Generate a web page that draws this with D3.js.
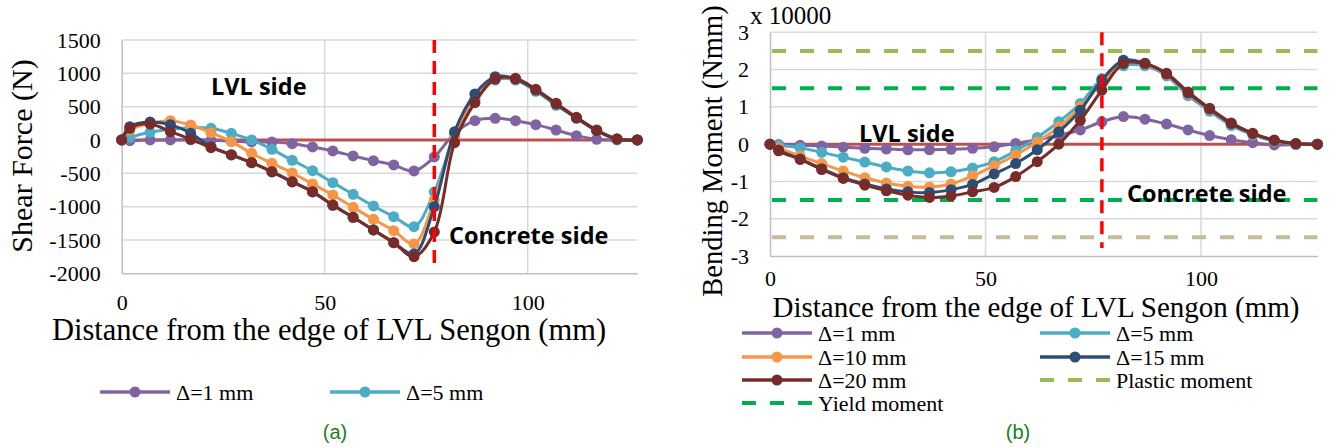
<!DOCTYPE html>
<html>
<head>
<meta charset="utf-8">
<script src="https://cdn.jsdelivr.net/npm/d3@7"></script>
<style>
    body { margin: 0; background: #fff; }
    text { font-family: "Liberation Serif", "Times New Roman", serif; fill: #000; }
    .note { font-family: "Open Sans", sans-serif; font-weight: 700; }
    .caption { font-family: "Liberation Sans", Arial, sans-serif; fill: #17821c; }
</style>
</head>
<body>
<div id="chart"></div>
<script>

// distance from the edge of LVL Sengon (mm)
var distance = [0, 2, 7, 12, 17, 22, 27, 32, 37, 42, 47, 52, 57, 62, 67, 72, 77, 82, 87, 92, 97, 102, 107, 112, 117, 122, 127];

// shear force (N)
var shear1  = [0, -10, 0, 0, 5, -5, -15, -30, -30, -55, -105, -165, -240, -310, -375, -465, -255, 100, 290, 325, 290, 230, 150, 65, 10, 0, 0];
var shear5  = [0, 40, 115, 160, 185, 175, 100, 0, -140, -305, -460, -640, -815, -990, -1150, -1300, -780, 60, 620, 900, 900, 730, 520, 330, 140, 10, 0];
var shear10 = [0, 150, 250, 290, 225, 110, -25, -200, -350, -495, -660, -825, -1010, -1190, -1360, -1560, -900, 50, 600, 920, 915, 750, 540, 330, 140, 15, 0];
var shear15 = [0, 200, 270, 230, 100, -100, -220, -340, -480, -630, -780, -980, -1160, -1350, -1540, -1710, -1000, 125, 690, 950, 915, 750, 540, 330, 140, 15, 0];
var shear20 = [0, 175, 240, 125, 10, -115, -225, -340, -475, -625, -775, -975, -1160, -1350, -1540, -1750, -1380, -40, 560, 915, 925, 760, 550, 340, 150, 15, 0];

// bending moment (x 10000 Nmm)
var moment1  = [0, -0.01, -0.03, -0.05, -0.08, -0.11, -0.13, -0.15, -0.15, -0.14, -0.11, -0.07, 0.02, 0.12, 0.24, 0.38, 0.6, 0.74, 0.67, 0.54, 0.38, 0.23, 0.12, 0.04, -0.02, -0.01, 0];
var moment5  = [0, -0.03, -0.1, -0.22, -0.35, -0.48, -0.61, -0.72, -0.77, -0.74, -0.64, -0.47, -0.18, 0.18, 0.6, 1.09, 1.76, 2.1, 2.1, 1.83, 1.3, 0.88, 0.5, 0.25, 0.08, 0.01, 0];
var moment10 = [0, -0.1, -0.32, -0.52, -0.72, -0.9, -1.04, -1.13, -1.15, -1.07, -0.85, -0.58, -0.29, 0.06, 0.46, 1.0, 1.65, 2.18, 2.15, 1.86, 1.35, 0.92, 0.54, 0.27, 0.09, 0.01, 0];
var moment15 = [0, -0.16, -0.4, -0.66, -0.9, -1.07, -1.2, -1.28, -1.3, -1.22, -1.08, -0.8, -0.52, -0.15, 0.33, 0.91, 1.72, 2.25, 2.17, 1.88, 1.37, 0.94, 0.55, 0.28, 0.1, 0.01, 0];
var moment20 = [0, -0.18, -0.41, -0.68, -0.92, -1.1, -1.25, -1.37, -1.43, -1.39, -1.28, -1.16, -0.87, -0.47, 0.0, 0.64, 1.45, 2.16, 2.16, 1.9, 1.4, 0.96, 0.57, 0.29, 0.11, 0.02, 0];

var seriesNames = ["Δ=1 mm", "Δ=5 mm", "Δ=10 mm", "Δ=15 mm", "Δ=20 mm"];
var seriesColors = ["#8064a2", "#4bacc6", "#f79646", "#2c4d75", "#772c2a"];

var shearTicks = [1500, 1000, 500, 0, -500, -1000, -1500, -2000];
var momentTicks = [3, 2, 1, 0, -1, -2, -3];
var distanceTicks = [0, 50, 100];

var interfaceX = 77;          // LVL / concrete boundary
var yieldMoment = 1.5;
var plasticMoment = 2.5;

var svg = d3.select("#chart").append("svg")
    .attr("width", 1330)
    .attr("height", 447);

Panel = function(_cfg){
    this.cfg = _cfg;
    this.initVis();
}

Panel.prototype.initVis = function(){
    var vis = this;
    var c = vis.cfg;

    vis.g = svg.append("g");

    vis.x = d3.scaleLinear()
        .domain([0, 127])
        .range([c.left, c.right]);

    vis.y = d3.scaleLinear()
        .domain([c.ticks[c.ticks.length - 1], c.ticks[0]])
        .range([c.bottom, c.top]);

    // gridlines
    vis.g.selectAll(".hgrid")
        .data(c.ticks.slice(0, -1))
        .enter().append("line")
        .attr("x1", vis.x(0))
        .attr("x2", vis.x(127))
        .attr("y1", function(d){ return vis.y(d); })
        .attr("y2", function(d){ return vis.y(d); })
        .attr("stroke", "#d9d9d9")
        .attr("stroke-width", 1.5);

    vis.g.selectAll(".vgrid")
        .data(distanceTicks.slice(1))
        .enter().append("line")
        .attr("x1", function(d){ return vis.x(d); })
        .attr("x2", function(d){ return vis.x(d); })
        .attr("y1", c.top)
        .attr("y2", c.bottom)
        .attr("stroke", "#d9d9d9")
        .attr("stroke-width", 1.5);

    // axes
    vis.yAxis = d3.axisLeft(vis.y)
        .tickValues(c.ticks)
        .tickSize(0)
        .tickPadding(21)
        .tickFormat(function(d){ return String(d); });

    vis.xAxis = d3.axisBottom(vis.x)
        .tickValues(distanceTicks)
        .tickSize(0)
        .tickPadding(c.xPad)
        .tickFormat(function(d){ return String(d); });

    var ya = vis.g.append("g")
        .attr("transform", "translate(" + c.left + ",0)")
        .call(vis.yAxis);
    var xa = vis.g.append("g")
        .attr("transform", "translate(0," + c.bottom + ")")
        .call(vis.xAxis);

    [ya, xa].forEach(function(a){
        a.select(".domain").attr("stroke", "#bfbfbf").attr("stroke-width", 1.5);
        a.selectAll("text")
            .attr("fill", "#000")
            .style("font-size", "22px")
            .style("font-family", "Liberation Serif");
    });

    vis.drawData();
}

Panel.prototype.drawData = function(){
    var vis = this;
    var c = vis.cfg;

    // zero reference line
    vis.g.append("line")
        .attr("x1", vis.x(0))
        .attr("x2", vis.x(127))
        .attr("y1", vis.y(0))
        .attr("y2", vis.y(0))
        .attr("stroke", "#c0504d")
        .attr("stroke-width", 3);

    // moment limits
    if (c.limits) {
        c.limits.forEach(function(l){
            vis.g.append("line")
                .attr("x1", vis.x(0) + 2)
                .attr("x2", vis.x(127))
                .attr("y1", vis.y(l.value))
                .attr("y2", vis.y(l.value))
                .attr("stroke", l.color)
                .attr("stroke-width", 4)
                .attr("stroke-dasharray", "14,14");
        });
    }

    var line = d3.line()
        .x(function(d){ return vis.x(d[0]); })
        .y(function(d){ return vis.y(d[1]); })
        .curve(d3.curveCatmullRom.alpha(0.5));

    c.series.forEach(function(s, i){
        var pts = distance.map(function(d, j){ return [d, s[j]]; });

        vis.g.append("path")
            .datum(pts)
            .attr("d", line)
            .attr("fill", "none")
            .attr("stroke", seriesColors[i])
            .attr("stroke-width", 3);

        vis.g.selectAll(".pt" + i)
            .data(pts)
            .enter().append("circle")
            .attr("cx", function(d){ return vis.x(d[0]); })
            .attr("cy", function(d){ return vis.y(d[1]); })
            .attr("r", 5.5)
            .attr("fill", seriesColors[i]);
    });

    // LVL / concrete interface
    vis.g.append("line")
        .attr("x1", vis.x(interfaceX))
        .attr("x2", vis.x(interfaceX))
        .attr("y1", c.top)
        .attr("y2", c.bottom - 8)
        .attr("stroke", "#ff0000")
        .attr("stroke-width", 3.5)
        .attr("stroke-dasharray", "13,8");

    // labels
    vis.g.append("text")
        .attr("class", "note")
        .attr("x", c.lvlLabel[0])
        .attr("y", c.lvlLabel[1])
        .style("font-size", "23.5px")
        .text("LVL side");

    vis.g.append("text")
        .attr("class", "note")
        .attr("x", c.concreteLabel[0])
        .attr("y", c.concreteLabel[1])
        .style("font-size", "23.5px")
        .text("Concrete side");

    vis.g.append("text")
        .attr("text-anchor", "middle")
        .attr("transform", "translate(" + c.yTitle[0] + "," + c.yTitle[1] + ") rotate(-90)")
        .style("font-size", c.yTitleSize + "px")
        .text(c.yLabel);

    vis.g.append("text")
        .attr("text-anchor", "middle")
        .attr("x", c.xTitle[0])
        .attr("y", c.xTitle[1])
        .style("font-size", c.xTitleSize + "px")
        .text("Distance from the edge of LVL Sengon (mm)");

    vis.g.append("text")
        .attr("class", "caption")
        .attr("text-anchor", "middle")
        .attr("x", c.caption[0])
        .attr("y", 439)
        .style("font-size", "20px")
        .text(c.captionText);
}

function legendItem(x, y, color, label, dashed){
    var g = svg.append("g");
    g.append("line")
        .attr("x1", x).attr("x2", x + 70)
        .attr("y1", y).attr("y2", y)
        .attr("stroke", color)
        .attr("stroke-width", dashed ? 4 : 3.5)
        .attr("stroke-dasharray", dashed ? "14,14" : null);
    if (!dashed) {
        g.append("circle")
            .attr("cx", x + 35).attr("cy", y)
            .attr("r", 5.5)
            .attr("fill", color);
    }
    g.append("text")
        .attr("x", x + 76)
        .attr("y", y + 8)
        .style("font-size", "22px")
        .text(label);
}

// (a) shear force
new Panel({
    left: 121.7, right: 637.3, top: 40, bottom: 273.3,
    ticks: shearTicks,
    series: [shear1, shear5, shear10, shear15, shear20],
    xPad: 21,
    yLabel: "Shear Force (N)", yTitleSize: 30,
    yTitle: [32, 156],
    xTitle: [329, 340], xTitleSize: 30.5,
    lvlLabel: [211, 95],
    concreteLabel: [449, 244],
    caption: [335], captionText: "(a)"
});

// (b) bending moment
new Panel({
    left: 770, right: 1317.4, top: 32.3, bottom: 256,
    ticks: momentTicks,
    series: [moment1, moment5, moment10, moment15, moment20],
    limits: [
        { value: plasticMoment, color: "#9bbb59" },
        { value: yieldMoment, color: "#00b050" },
        { value: -yieldMoment, color: "#00b050" },
        { value: -plasticMoment, color: "#c4bd97" }
    ],
    xPad: 14,
    yLabel: "Bending Moment (Nmm)", yTitleSize: 28.5,
    yTitle: [722, 151],
    xTitle: [1036, 317], xTitleSize: 29,
    lvlLabel: [859, 142],
    concreteLabel: [1127, 202],
    caption: [1018], captionText: "(b)"
});

svg.append("text")
    .attr("x", 750)
    .attr("y", 24)
    .style("font-size", "25px")
    .text("x 10000");

// legends
legendItem(100, 392, seriesColors[0], seriesNames[0], false);
legendItem(330, 392, seriesColors[1], seriesNames[1], false);

var rowY = [333, 357, 380, 403];
legendItem(742, rowY[0], seriesColors[0], seriesNames[0], false);
legendItem(1040, rowY[0], seriesColors[1], seriesNames[1], false);
legendItem(742, rowY[1], seriesColors[2], seriesNames[2], false);
legendItem(1040, rowY[1], seriesColors[3], seriesNames[3], false);
legendItem(742, rowY[2], seriesColors[4], seriesNames[4], false);
legendItem(1040, rowY[2], "#9bbb59", "Plastic moment", true);
legendItem(742, rowY[3], "#00b050", "Yield moment", true);

</script>
</body>
</html>
